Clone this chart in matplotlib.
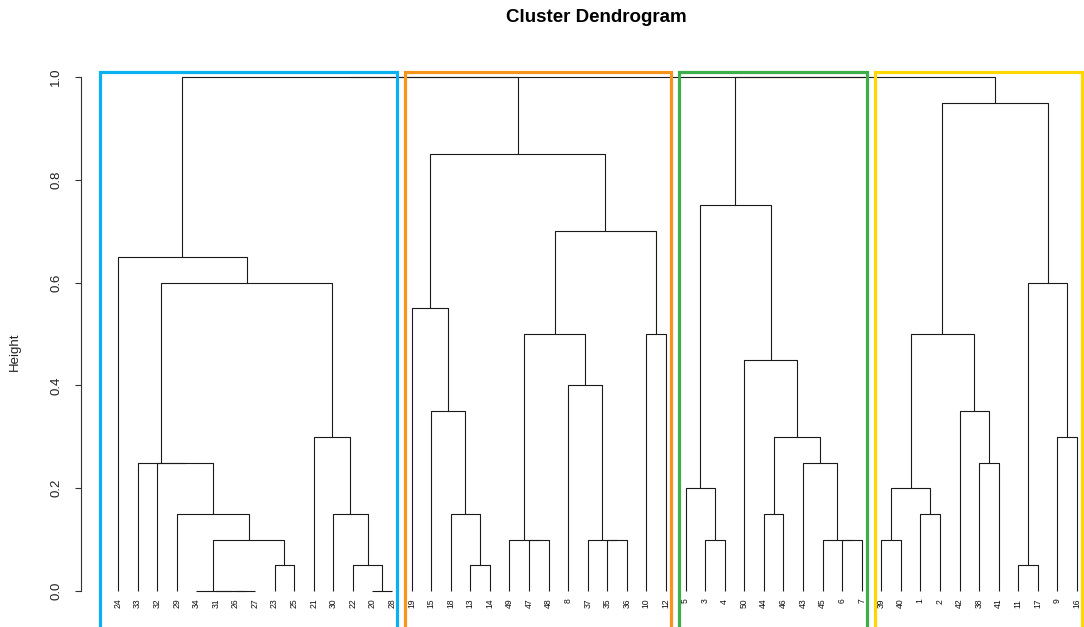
import numpy as np
import matplotlib
matplotlib.use('Agg')
import matplotlib.pyplot as plt

plt.rcParams['font.family'] = ['Liberation Sans', 'DejaVu Sans']

# Cluster trees: (height, left, right), leaves are sample numbers
tree1 = (0.65, 24,
         (0.60,
          (0.25, 33, (0.25, 32, (0.15, 29, (0.10, (0.0, 34, (0.0, 31, (0.0, 26, 27))), (0.05, 23, 25))))),
          (0.30, 21, (0.15, 30, (0.05, 22, (0.0, 20, 28))))))
tree2 = (0.85,
         (0.55, 19, (0.35, 15, (0.15, 18, (0.05, 13, 14)))),
         (0.70,
          (0.50, (0.10, 49, (0.10, 47, 48)), (0.40, 8, (0.10, 37, (0.10, 35, 36)))),
          (0.50, 10, 12)))
tree3 = (0.75,
         (0.20, 5, (0.10, 3, 4)),
         (0.45, 50, (0.30, (0.15, 44, 46), (0.25, 43, (0.10, 45, (0.10, 6, 7))))))
tree4 = (0.95,
         (0.50, (0.20, (0.10, 39, 40), (0.15, 1, 2)), (0.35, 42, (0.25, 38, 41))),
         (0.60, (0.05, 11, 17), (0.30, 9, 16)))
top_height = 1.0
box_height = 1.01
box_colors = ['#0AB1EF', '#F7941D', '#3EAD4B', '#FFD800']
yticks = [0.0, 0.2, 0.4, 0.6, 0.8, 1.0]

trees = [tree1, tree2, tree3, tree4]
root = (top_height, (top_height, tree1, tree2), (top_height, tree3, tree4))


def leaves(node):
    if isinstance(node, int):
        return [node]
    return leaves(node[1]) + leaves(node[2])


order = leaves(root)
pos = {lab: i + 1 for i, lab in enumerate(order)}

W, H = 1084, 627
fig = plt.figure(figsize=(W / 100, H / 100), dpi=100)
ax = fig.add_axes([0, 0, 1, 1])

# pixel layout: leaf 1 at 118 px, spacing 19.57 px; height 0 at 591 px, 1.0 at 77 px
step = 19.57
x0 = 1 - 118 / step
ax.set_xlim(x0, x0 + W / step)
ppu = 514.0
ax.set_ylim((591 - H) / ppu, 591 / ppu)

line_col = '#1a1a1a'


def draw(node):
    if isinstance(node, int):
        x = pos[node]
        ax.text(x, -0.015, str(node), rotation=90, ha='center', va='top',
                fontsize=6.2, color='#111111')
        return x, 0.0
    h, l, r = node
    xl, yl = draw(l)
    xr, yr = draw(r)
    ax.plot([xl, xl, xr, xr], [yl, h, h, yr], color=line_col, lw=0.8,
            solid_capstyle='butt')
    return (xl + xr) / 2, h


draw(root)

# rect.hclust style boxes
for k, (t, col) in enumerate(zip(trees, box_colors)):
    lv = leaves(t)
    left = pos[lv[0]] - (0.92 if k == 0 else 0.34)
    right = pos[lv[-1]] + 0.25
    ax.plot([left, left, right, right], [-0.2, box_height, box_height, -0.2],
            color=col, lw=2.3, solid_joinstyle='miter', clip_on=False)

# y axis like R
for s in ['top', 'right', 'bottom']:
    ax.spines[s].set_visible(False)
ax.spines['left'].set_position(('data', x0 + 81 / step))
ax.spines['left'].set_bounds(0, 1)
ax.spines['left'].set_color('#333333')
ax.spines['left'].set_linewidth(0.8)
ax.set_xticks([])
ax.set_yticks(yticks)
ax.set_yticklabels([f'{v:.1f}' for v in yticks])
ax.tick_params(axis='y', length=4.5, width=0.8, color='#333333',
               labelsize=9.5, pad=9, labelrotation=90, labelcolor='#222222')
for lab in ax.get_yticklabels():
    lab.set_va('center')

fig.text(15 / W, 1 - 352 / H, 'Height', rotation=90, ha='center', va='center',
         fontsize=9.5, color='#222222')
fig.text(596 / W, 1 - 18 / H, 'Cluster Dendrogram', ha='center', va='center',
         fontsize=13.5, fontweight='bold')

fig.savefig('out.png', dpi=100)
